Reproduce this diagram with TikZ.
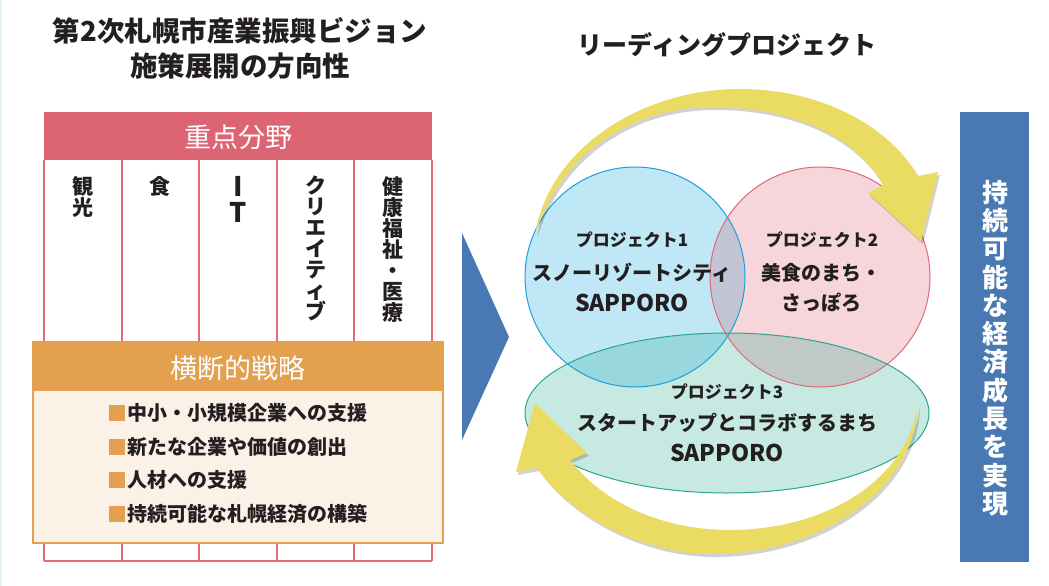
\documentclass[tikz,border=0pt]{standalone}
\usepackage{fontspec}
\setmainfont{Noto Sans CJK JP}
\definecolor{txt}{HTML}{231F20}
\definecolor{pinkhead}{HTML}{DC6473}
\definecolor{pinkline}{HTML}{E06B7A}
\definecolor{orng}{HTML}{E3A04F}
\definecolor{orngbody}{HTML}{FBF1E6}
\definecolor{blu}{HTML}{4879B3}
\definecolor{cAfill}{HTML}{C0E7F6}
\definecolor{cAline}{HTML}{1AA0DA}
\definecolor{cBfill}{HTML}{F6D5DB}
\definecolor{cBline}{HTML}{DE6A78}
\definecolor{cCfill}{HTML}{C6EAE2}
\definecolor{cCline}{HTML}{2BA58E}
\definecolor{cAB}{HTML}{C2C4D4}
\definecolor{cAC}{HTML}{97D7DD}
\definecolor{cBC}{HTML}{C0C8C8}
\definecolor{yel}{HTML}{EADC62}
\definecolor{strip}{HTML}{E3F1F8}
\newcommand\myToparrow{(535,235) .. controls (548,150) and (640,89) .. (740,89) .. controls (820,89) and (888,125) .. (918,176) -- (938,172) -- (921,241) -- (868,193) -- (883,185) .. controls (855,135) and (790,107) .. (713,107) .. controls (630,107) and (560,155) .. (535,235) -- cycle}
\newcommand\myBotarrow{(918,405) .. controls (915,490) and (820,554) .. (713,554) .. controls (640,554) and (570,515) .. (537,468) -- (516,472) -- (535,403) -- (587,453) -- (570,460) .. controls (605,505) and (665,530) .. (730,530) .. controls (820,530) and (905,485) .. (918,405) -- cycle}
\begin{document}
\begin{tikzpicture}[x=1pt,y=-1pt,
  title/.style={text=txt,font=\fontsize{27.5}{30}\selectfont\bfseries,inner sep=0pt},
  coltext/.style={anchor=north,align=center,inner sep=0pt,text=txt,font=\fontsize{21}{21}\selectfont\bfseries},
  headtext/.style={text=white,inner sep=0pt,font=\fontsize{27}{29}\selectfont},
  bullet/.style={anchor=west,inner sep=0pt,text=txt,font=\fontsize{20}{22}\selectfont\bfseries},
  projlabel/.style={inner sep=0pt,text=txt,font=\fontsize{17}{19}\selectfont\bfseries},
  projname/.style={inner sep=0pt,text=txt,font=\fontsize{20}{22}\selectfont\bfseries},
  sapporo/.style={inner sep=0pt,text=txt,font=\fontsize{23}{25}\selectfont\bfseries},
  colline/.style={draw=pinkline,line width=1.5pt},
  arrowshadow/.style={fill=black,fill opacity=0.18}
]
\useasboundingbox (0,0) rectangle (1049,586);
\fill[white] (0,0) rectangle (1049,586);
\fill[strip] (0,0) rectangle (2,586);

% ---------- left titles
\node[title] (t1) at (240,31) {第2次札幌市産業振興ビジョン};
\node[title] (t2) at (240,66) {施策展開の方向性};

% ---------- columns
\fill[pinkhead] (44,112) rectangle (432,160);
\node[headtext] (h1) at (238,137) {重点分野};
\foreach \x in {44,122,199,277,354,432} {\draw[colline] (\x,160) -- (\x,561);}
\draw[colline] (44,561) -- (432,561);
\node[coltext] (c1) at (83,176) {観\\光};
\node[coltext] (c2) at (160,176) {食};
\node[coltext,font=\fontsize{27}{26}\selectfont\bfseries] (c3) at (238,176) {I\\T};
\node[coltext] (c4) at (316,176) {ク\\リ\\エ\\イ\\テ\\ィ\\ブ};
\node[coltext] (c5) at (393,176) {健\\康\\福\\祉\\・\\医\\療};

% ---------- cross-cutting strategy box
\draw[fill=orngbody,draw=orng,line width=1.5pt] (33,342) rectangle (443,543);
\fill[orng] (33,342) rectangle (443,391);
\node[headtext] (h2) at (238,368) {横断的戦略};
\node[bullet] (b1) at (109,413) {{\color{orng}\rule[-0.4pt]{16pt}{16pt}}\hspace{2pt}中小・小規模企業への支援};
\node[bullet] (b2) at (109,447) {{\color{orng}\rule[-0.4pt]{16pt}{16pt}}\hspace{2pt}新たな企業や価値の創出};
\node[bullet] (b3) at (109,480) {{\color{orng}\rule[-0.4pt]{16pt}{16pt}}\hspace{2pt}人材への支援};
\node[bullet] (b4) at (109,514) {{\color{orng}\rule[-0.4pt]{16pt}{16pt}}\hspace{2pt}持続可能な札幌経済の構築};

% ---------- chevron
\fill[blu] (462,233) -- (509,337) -- (462,440) -- cycle;

% ---------- leading projects
\node[title,font=\fontsize{25}{27}\selectfont\bfseries] (t3) at (727,45) {リーディングプロジェクト};

\fill[cAfill] (635,277) circle[radius=110pt];
\fill[cBfill] (820,277) circle[radius=110pt];
\fill[cCfill] (727,413) ellipse[x radius=202pt,y radius=80pt];
\begin{scope}
  \clip (635,277) circle[radius=110pt];
  \fill[cAB] (820,277) circle[radius=110pt];
  \fill[cAC] (727,413) ellipse[x radius=202pt,y radius=80pt];
\end{scope}
\begin{scope}
  \clip (820,277) circle[radius=110pt];
  \fill[cBC] (727,413) ellipse[x radius=202pt,y radius=80pt];
\end{scope}
\draw[cAline,line width=1pt] (635,277) circle[radius=110pt];
\draw[cBline,line width=1pt] (820,277) circle[radius=110pt];
\draw[cCline,line width=1pt] (727,413) ellipse[x radius=202pt,y radius=80pt];

% ---------- yellow arrows
\fill[arrowshadow,shift={(2,3)}] \myToparrow;
\fill[yel] \myToparrow;
\fill[arrowshadow,shift={(2,3)}] \myBotarrow;
\fill[yel] \myBotarrow;

\node[projlabel] (p1) at (632,240) {プロジェクト1};
\node[projname] (n1) at (632,273) {スノーリゾートシティ};
\node[sapporo] (s1) at (632,303) {SAPPORO};
\node[projlabel] (p2) at (822,240) {プロジェクト2};
\node[projname] (n2) at (821,273) {美食のまち・};
\node[projname] (n2b) at (821,303) {さっぽろ};
\node[projlabel] (p3) at (727,392) {プロジェクト3};
\node[projname] (n3) at (727,423) {スタートアップとコラボするまち};
\node[sapporo] (s3) at (727,453) {SAPPORO};

% ---------- outcome box
\fill[blu] (960,112) rectangle (1029,562);
\node[align=center,inner sep=0pt,text=white,font=\fontsize{26}{28.3}\selectfont\bfseries] (goal) at (995,348)
  {持\\続\\可\\能\\な\\経\\済\\成\\長\\を\\実\\現};
\end{tikzpicture}
\end{document}
